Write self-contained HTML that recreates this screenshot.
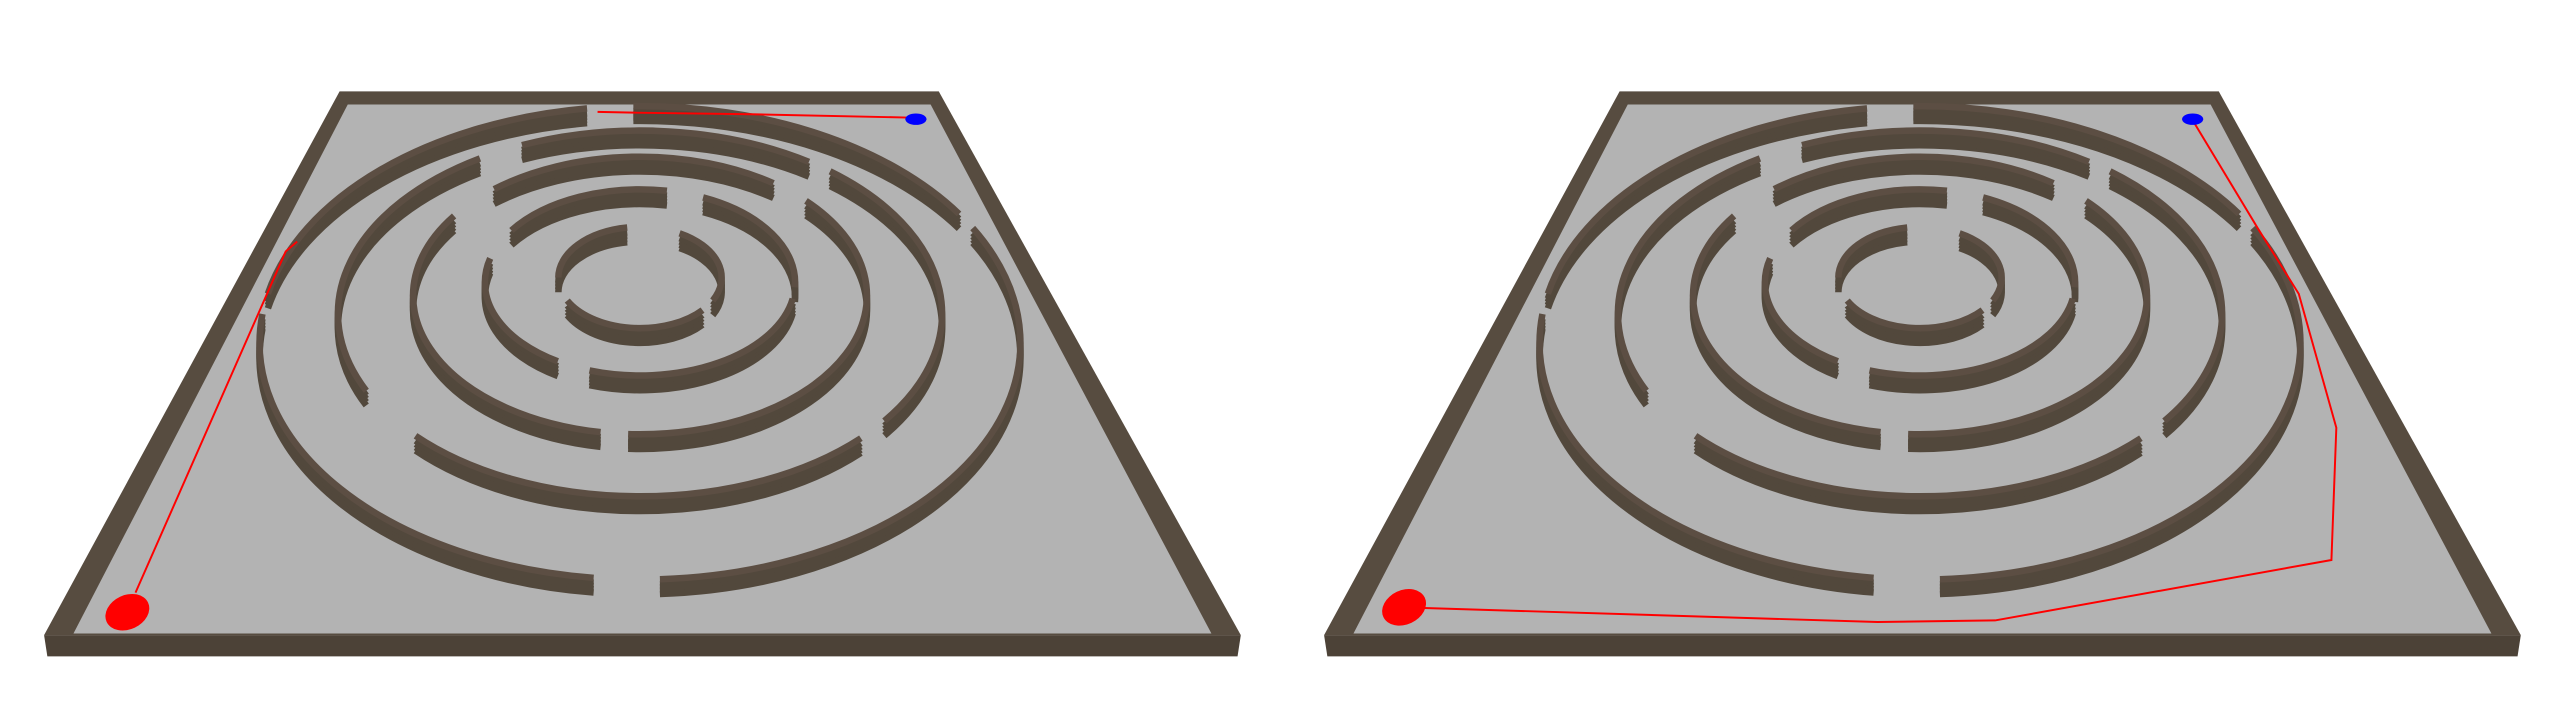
<!DOCTYPE html>
<html><head><meta charset="utf-8"><style>
html,body{margin:0;padding:0;background:#fff;width:2560px;height:720px;overflow:hidden}
svg{display:block}
</style></head>
<body>
<svg id="scene" width="2560" height="720" viewBox="0 0 1568 441" preserveAspectRatio="none" xmlns="http://www.w3.org/2000/svg">
<g id="panels"></g>
</svg>
<script>
const panelOffsets = [0, 784];
const ringCx = [392, 392, 392, 392, 392];
const ringCy = [210, 192, 181, 173, 170];
const ringRx = [233, 185, 139, 95, 50];
const ringRy = [145, 112, 85, 57, 31];
const ringSegments = [
  [[-91,-33],[-29,87],[97,187],[192,262]],
  [[-113,-56],[-51,36],[43,138],[155,238]],
  [[-130,-54],[-43,93],[100,215]],
  [[-146,-80],[-66,3],[10,109],[122,195]],
  [[180,261],[-61,27],[40,153]]
];
const pathLeftX = [83, 175, 182];
const pathLeftY = [363, 154, 148];
const pathTopX = [366, 388, 460, 556];
const pathTopY = [68.5, 69, 70, 72];
const pathRightX = [76, 366, 438, 644, 647, 624, 599, 558];
const pathRightY = [372, 381, 380, 343, 262, 180, 140, 72];
const startX = [78, 76];
const startY = [375, 372];
const goalX = [561, 559];

const NS = 'http://www.w3.org/2000/svg';
const root = document.getElementById('panels');
function mk(tag, attrs, parent){
  const e = document.createElementNS(NS, tag);
  for (const k in attrs) e.setAttribute(k, attrs[k]);
  parent.appendChild(e);
  return e;
}
function arcPath(cx, cy, rx, ry, a0, a1, dy){
  const r = Math.PI/180;
  const x0 = cx + rx*Math.cos(a0*r), y0 = cy + dy + ry*Math.sin(a0*r);
  const x1 = cx + rx*Math.cos(a1*r), y1 = cy + dy + ry*Math.sin(a1*r);
  const large = (a1 - a0) > 180 ? 1 : 0;
  return `M${x0} ${y0} A${rx} ${ry} 0 ${large} 1 ${x1} ${y1}`;
}
function poly(xs, ys, off){ return xs.map((x,i)=>(x+off)+','+ys[i]).join(' '); }

panelOffsets.forEach((off, p) => {
  const g = mk('g', {}, root);
  
  
  const front = mk('polygon', {points:`${27+off},389 ${760+off},389 ${758+off},402 ${29+off},402`, fill:'#4c4237'}, g);
  
  
  const frame = mk('polygon', {points:`${208+off},56 ${575+off},56 ${760+off},389 ${27+off},389`, fill:'#574c40'}, g);
  
  
  const floor = mk('polygon', {points:`${213+off},64 ${570+off},64 ${742+off},388 ${45+off},388`, fill:'#b3b3b3'}, g);
  
  
  ringSegments.forEach((segs, ri) => {
    segs.forEach(([a0,a1]) => {
      [9,7,5,3].forEach(dy => {
        const side = mk('path', {d:arcPath(ringCx[ri]+off, ringCy[ri], ringRx[ri], ringRy[ri], a0, a1, dy), fill:'none', stroke:'#52483c', 'stroke-width':4}, g);
        
        
      });
      const top = mk('path', {d:arcPath(ringCx[ri]+off, ringCy[ri], ringRx[ri], ringRy[ri], a0, a1, 0), fill:'none', stroke:'#5c4e43', 'stroke-width':4}, g);
      
      
    });
  });
  if (p === 0) {
    const l1 = mk('polyline', {points:poly(pathLeftX, pathLeftY, off), fill:'none', stroke:'#f00', 'stroke-width':1.2}, g);
    
    
    const l2 = mk('polyline', {points:poly(pathTopX, pathTopY, off), fill:'none', stroke:'#f00', 'stroke-width':1.2}, g);
    
    
  } else {
    const l3 = mk('polyline', {points:poly(pathRightX, pathRightY, off), fill:'none', stroke:'#f00', 'stroke-width':1.2}, g);
    
    
  }
  const s = mk('ellipse', {cx:startX[p]+off, cy:startY[p], rx:14, ry:10.5, fill:'#f00', transform:`rotate(-25 ${startX[p]+off} ${startY[p]})`}, g);
  
  
  const b = mk('ellipse', {cx:goalX[p]+off, cy:73, rx:6.5, ry:3.5, fill:'#00f'}, g);
  
  
});
</script>
</body></html>
